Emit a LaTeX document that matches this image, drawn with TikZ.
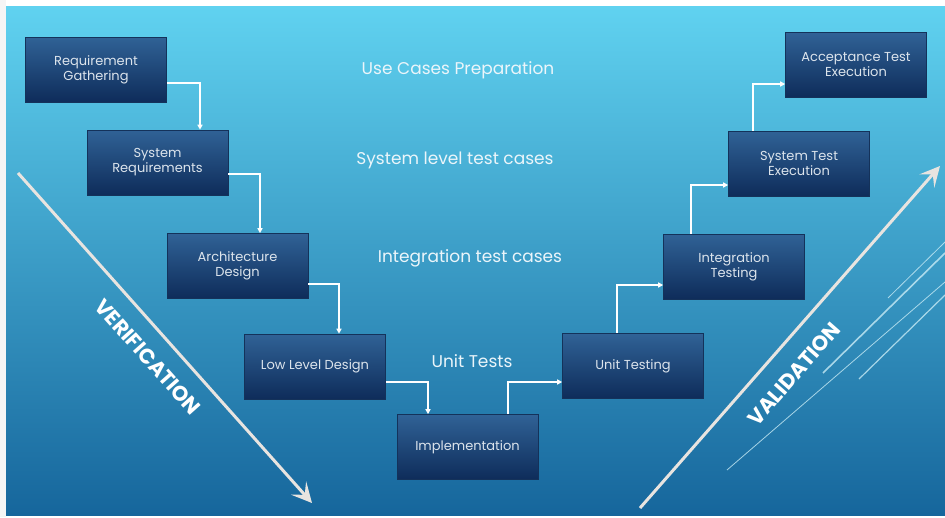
\documentclass[tikz,border=0pt]{standalone}
\usepackage{fontspec}
\setmainfont{Poppins}
\usetikzlibrary{arrows.meta}
\definecolor{bgtop}{RGB}{96,210,240}
\definecolor{bgbot}{RGB}{22,102,156}
\definecolor{boxtop}{RGB}{48,98,150}
\definecolor{boxbot}{RGB}{14,44,90}
\definecolor{boxedge}{RGB}{20,50,90}
\definecolor{boxtext}{RGB}{220,228,236}
\definecolor{arrowcol}{RGB}{232,228,224}
\definecolor{lblcol}{RGB}{235,245,250}
\definecolor{decocol}{RGB}{200,235,245}
\tikzset{
  box/.style={draw=boxedge, line width=0.6pt, top color=boxtop, bottom color=boxbot,
    minimum width=141pt, minimum height=65pt, align=center, text=boxtext,
    font=\fontsize{13}{15}\selectfont, inner sep=2pt},
  conn/.style={draw=white, line width=1.6pt, -{Triangle[length=5pt,width=5pt]}},
  lbl/.style={text=lblcol, font=\fontsize{17}{19}\selectfont},
  bigarrow/.style={draw=arrowcol, line width=3pt, -{Stealth[length=20pt,width=20pt,inset=9pt]}},
  bigtext/.style={text=white, font=\bfseries\fontsize{21}{23}\selectfont},
  deco/.style={draw=decocol, opacity=0.8}
}
\begin{document}
\begin{tikzpicture}[x=1pt,y=-1pt]
\useasboundingbox (0,0) rectangle (945,517);
\fill[white] (0,0) rectangle (945,517);
\fill[gray!8] (0,0) rectangle (6,517);
\shade[top color=bgtop, bottom color=bgbot] (6,6) rectangle (945,515);
% decorative lines
\draw[deco, line width=0.8pt] (727,470) -- (945,282);
\draw[deco, line width=1.6pt] (823,373) -- (945,253);
\draw[deco, line width=0.8pt] (888,298) -- (945,242);
\draw[deco, line width=1.2pt] (859,379) -- (945,295);
% big arrows
\coordinate (v1) at (18,173);
\coordinate (v2) at (312,503);
\coordinate (w1) at (640,508);
\coordinate (w2) at (940,166);
\draw[bigarrow] (v1) -- (v2);
\draw[bigarrow] (w1) -- (w2);
\node[bigtext, rotate=-48.3] (ver) at (148,357) {VERIFICATION};
\node[bigtext, rotate=48.7] (val) at (794,374) {VALIDATION};
% labels
\node[lbl] (l1) at (458,70) {Use Cases Preparation};
\node[lbl] (l2) at (455,160) {System level test cases};
\node[lbl] (l3) at (470,258) {Integration test cases};
\node[lbl] (l4) at (472,361) {Unit Tests};
% boxes
\node[box] (rg) at (96,69.5) {Requirement\\Gathering};
\node[box] (sr) at (157.5,162.5) {System\\Requirements};
\node[box] (ad) at (237.5,266) {Architecture\\Design};
\node[box] (lld) at (315,366.5) {Low Level Design};
\node[box] (impl) at (467.5,447) {Implementation};
\node[box] (ut) at (633,366) {Unit Testing};
\node[box] (it) at (734,266.5) {Integration\\Testing};
\node[box] (ste) at (799,163.5) {System Test\\Execution};
\node[box] (ate) at (856,65) {Acceptance Test\\Execution};
% connectors
\draw[conn] ([yshift=-13.5pt]rg.east) -| ([xshift=42.5pt]sr.north);
\draw[conn] ([yshift=-11.5pt]sr.east) -| ([xshift=22.5pt]ad.north);
\draw[conn] ([yshift=-18pt]ad.east) -| ([xshift=24pt]lld.north);
\draw[conn] ([yshift=-15.5pt]lld.east) -| ([xshift=-39.5pt]impl.north);
\draw[conn] ([xshift=40.5pt]impl.north) |- ([yshift=-16pt]ut.west);
\draw[conn] ([xshift=-16pt]ut.north) |- ([yshift=-18.5pt]it.west);
\draw[conn] ([xshift=-43pt]it.north) |- ([yshift=-21.5pt]ste.west);
\draw[conn] ([xshift=-46pt]ste.north) |- ([yshift=-19pt]ate.west);
\end{tikzpicture}
\end{document}
